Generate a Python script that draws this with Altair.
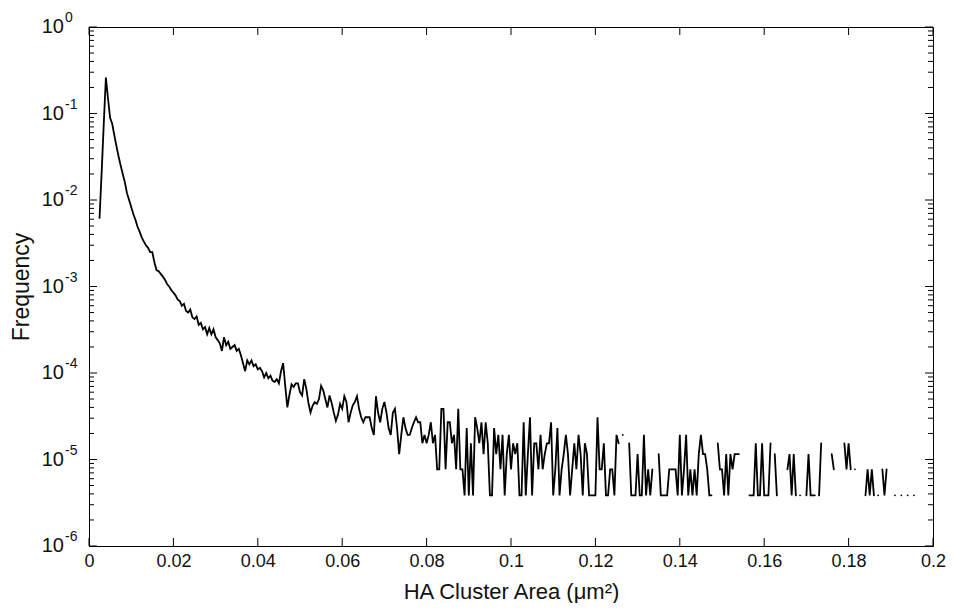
import altair as alt
import pandas as pd

# ---- data ----
bin_start = 0.0025          # centre of first bin (um^2)
bin_width = 0.0005          # bin spacing (um^2)
count_unit = 3.85e-6        # frequency of a single cluster (lowest level in the tail)

# frequencies, 0.0025 .. 0.0595
head_freq = [
    6.2e-3, 2.1e-2, 7.6e-2, 2.6e-1, 1.5e-1, 8.9e-2, 7.6e-2, 5.6e-2, 4.2e-2, 3.2e-2,
    2.5e-2, 2.0e-2, 1.6e-2, 1.2e-2, 1.0e-2, 8.3e-3, 6.9e-3, 5.9e-3, 4.9e-3, 4.3e-3,
    3.7e-3, 3.3e-3, 3.0e-3, 2.8e-3, 2.5e-3, 2.5e-3, 1.9e-3, 1.55e-3, 1.5e-3, 1.4e-3,
    1.3e-3, 1.2e-3, 1.07e-3, 1.0e-3, 9.1e-4, 8.5e-4, 7.9e-4, 7.1e-4, 6.8e-4, 6.0e-4,
    6.3e-4, 5.2e-4, 5.0e-4, 5.4e-4, 4.4e-4, 4.2e-4, 4.5e-4, 3.6e-4, 3.8e-4, 3.2e-4,
    3.4e-4, 2.8e-4,
    3.3e-4, 2.8e-4, 3.2e-4, 2.6e-4, 2.4e-4, 2.2e-4, 1.8e-4, 2.6e-4, 2.1e-4, 2.3e-4,
    1.9e-4, 2.0e-4, 2.1e-4, 1.8e-4, 1.9e-4, 1.6e-4, 1.3e-4, 1.05e-4, 1.4e-4, 1.26e-4,
    1.4e-4, 1.2e-4, 1.26e-4, 1.1e-4, 1.15e-4, 1.05e-4, 8.9e-5, 1.0e-4, 8.7e-5, 9.3e-5,
    8.1e-5, 7.9e-5, 8.5e-5, 7.6e-5, 1.05e-4, 1.3e-4, 7.1e-5, 4.0e-5, 5.6e-5, 7.4e-5,
    6.9e-5, 7.6e-5, 7.6e-5, 6.0e-5, 5.5e-5, 8.5e-5, 6.6e-5, 4.5e-5, 3.5e-5, 4.2e-5,
    4.6e-5, 4.4e-5, 5.0e-5, 7.1e-5, 6.3e-5, 5.0e-5, 4.0e-5, 5.5e-5, 4.5e-5, 3.5e-5,
    2.8e-5, 3.3e-5, 4.4e-5,
]

# cluster counts per bin, 0.0600 .. 0.1955 (0 = empty bin, line breaks there)
tail_counts = [
    10, 14, 12, 7, 9, 11, 12, 14, 10, 8, 7, 8, 8, 8, 6, 5, 14, 9, 7, 10,
    12, 9, 6, 5, 9, 10, 6, 3, 5, 8, 6, 5, 5, 6, 7, 8, 7, 7, 4,
    5, 4, 5, 7, 4, 5, 2, 2, 10, 10,
    2, 7, 7, 4, 5, 2, 10, 2, 2, 1,
    6, 1, 4, 1, 8, 6, 4, 7, 3, 7,
    4, 1, 1, 6, 3, 5, 2, 5, 1, 3,
    5, 2, 4, 3, 4, 1, 1, 7, 1, 3,
    8, 1, 4, 4, 2, 5, 2, 3, 4, 4,
    7, 1, 2, 6, 1, 2, 3, 5, 3, 1,
    2, 4, 2, 5, 3, 1, 4, 3, 1, 1,
    1, 1, 8,
    2, 2, 4, 1, 1, 2, 2, 1, 5, 4,
    0, 5, 0, 0, 4, 1, 1, 1, 3, 1,
    1, 5, 1, 2, 1, 2, 0, 0, 3, 1,
    1, 1, 1, 2, 2, 2, 2, 1, 5, 1,
    2, 5, 1, 2, 1, 2, 1, 3, 5, 3,
    3, 2, 1, 1, 0, 0, 4, 2, 2, 1,
    3, 1, 3, 2, 3, 3, 3, 0, 0, 0,
    0, 1, 1, 1, 4, 1, 1, 4, 1,
    1, 1, 4, 0, 3, 1, 0, 0, 0, 0,
    2, 3, 1, 3, 1, 0, 1, 0, 0, 1,
    3, 1, 1, 1, 0, 1, 4, 0, 0, 0,
    0, 3, 2, 0, 0, 0, 0, 4, 2, 4,
    2, 0, 2, 0, 0, 0, 0, 1, 2, 1,
    2, 1, 0, 1, 0, 2, 1, 2, 0, 0,
    0, 1, 0, 0, 1, 0, 0, 1, 0, 0,
    1,
]

x_ticks = [0, 0.02, 0.04, 0.06, 0.08, 0.1, 0.12, 0.14, 0.16, 0.18, 0.2]
y_major = [1e-6, 1e-5, 1e-4, 1e-3, 1e-2, 1e-1, 1.0]
y_exponents = ["-6", "-5", "-4", "-3", "-2", "-1", "0"]
y_minor_mult = [2, 3, 4, 5, 6, 7, 8, 9]

# ---- assemble ----
freq = list(head_freq) + [c * count_unit if c > 0 else None for c in tail_counts]
area = [round(bin_start + i * bin_width, 5) for i in range(len(freq))]
df = pd.DataFrame({"area": area, "freq": freq})

y_minor = [m * d for d in y_major[:-1] for m in y_minor_mult]
df_ymaj = pd.DataFrame({"freq": y_major, "exp": y_exponents})
df_ymin = pd.DataFrame({"freq": y_minor})
df_xt = pd.DataFrame({"area": x_ticks})

W, H = 844, 519
FONT = "Liberation Sans"
TXT = "#111111"

xscale = alt.Scale(domain=[0, 0.2], nice=False, zero=False)
yscale = alt.Scale(type="log", domain=[1e-6, 1], nice=False)

x_axis = alt.Axis(
    values=x_ticks, format=".2~f", title="HA Cluster Area (μm²)",
    ticks=False, tickSize=0, grid=False, domain=False,
    labelPadding=6, titlePadding=11, labelFontSize=18, titleFontSize=22,
    labelFont=FONT, titleFont=FONT, labelColor=TXT, titleColor=TXT,
    titleFontWeight="normal", labelFlush=False)
y_axis = alt.Axis(
    values=y_major, labels=False, title="Frequency",
    ticks=False, tickSize=0, grid=False, domain=False,
    labelPadding=0, titlePadding=56, titleFontSize=23,
    titleFont=FONT, titleColor=TXT, titleFontWeight="normal")

line = alt.Chart(df).mark_line(
    color="black", strokeWidth=1.8, invalid="break-paths-show-domains",
    strokeCap="round", clip=True,
).encode(
    x=alt.X("area:Q", scale=xscale, axis=x_axis),
    y=alt.Y("freq:Q", scale=yscale, axis=y_axis),
)

tick_style = dict(color="black", strokeWidth=1)


def yticks(d, x0, x1):
    return alt.Chart(d).mark_rule(**tick_style).encode(
        y=alt.Y("freq:Q", scale=yscale, axis=y_axis), x=alt.value(x0), x2=alt.value(x1))


def xticks(d, y0, y1):
    return alt.Chart(d).mark_rule(**tick_style).encode(
        x=alt.X("area:Q", scale=xscale, axis=x_axis), y=alt.value(y0), y2=alt.value(y1))


# decade labels drawn as "10" plus a raised exponent
lab_base = alt.Chart(df_ymaj).mark_text(
    align="right", baseline="middle", font=FONT, fontSize=20, color=TXT,
).encode(y=alt.Y("freq:Q", scale=yscale, axis=y_axis), x=alt.value(-25),
         text=alt.value("10"))
lab_exp = alt.Chart(df_ymaj).mark_text(
    align="left", baseline="middle", font=FONT, fontSize=14, color=TXT, dy=-9,
).encode(y=alt.Y("freq:Q", scale=yscale, axis=y_axis), x=alt.value(-24),
         text="exp:N")

chart = alt.layer(
    line,
    yticks(df_ymaj, 0, 8), yticks(df_ymaj, W - 8, W),
    yticks(df_ymin, 0, 5), yticks(df_ymin, W - 5, W),
    xticks(df_xt, H - 8, H), xticks(df_xt, 0, 8),
    lab_base, lab_exp,
).properties(
    width=W, height=H,
    autosize=alt.AutoSizeParams(type="none"),
    padding={"left": 81, "top": 19, "right": 13, "bottom": 57},
    background="white",
).configure_view(stroke="black", strokeWidth=1)

chart.save("out.html", embed_options={"renderer": "svg", "actions": False})
